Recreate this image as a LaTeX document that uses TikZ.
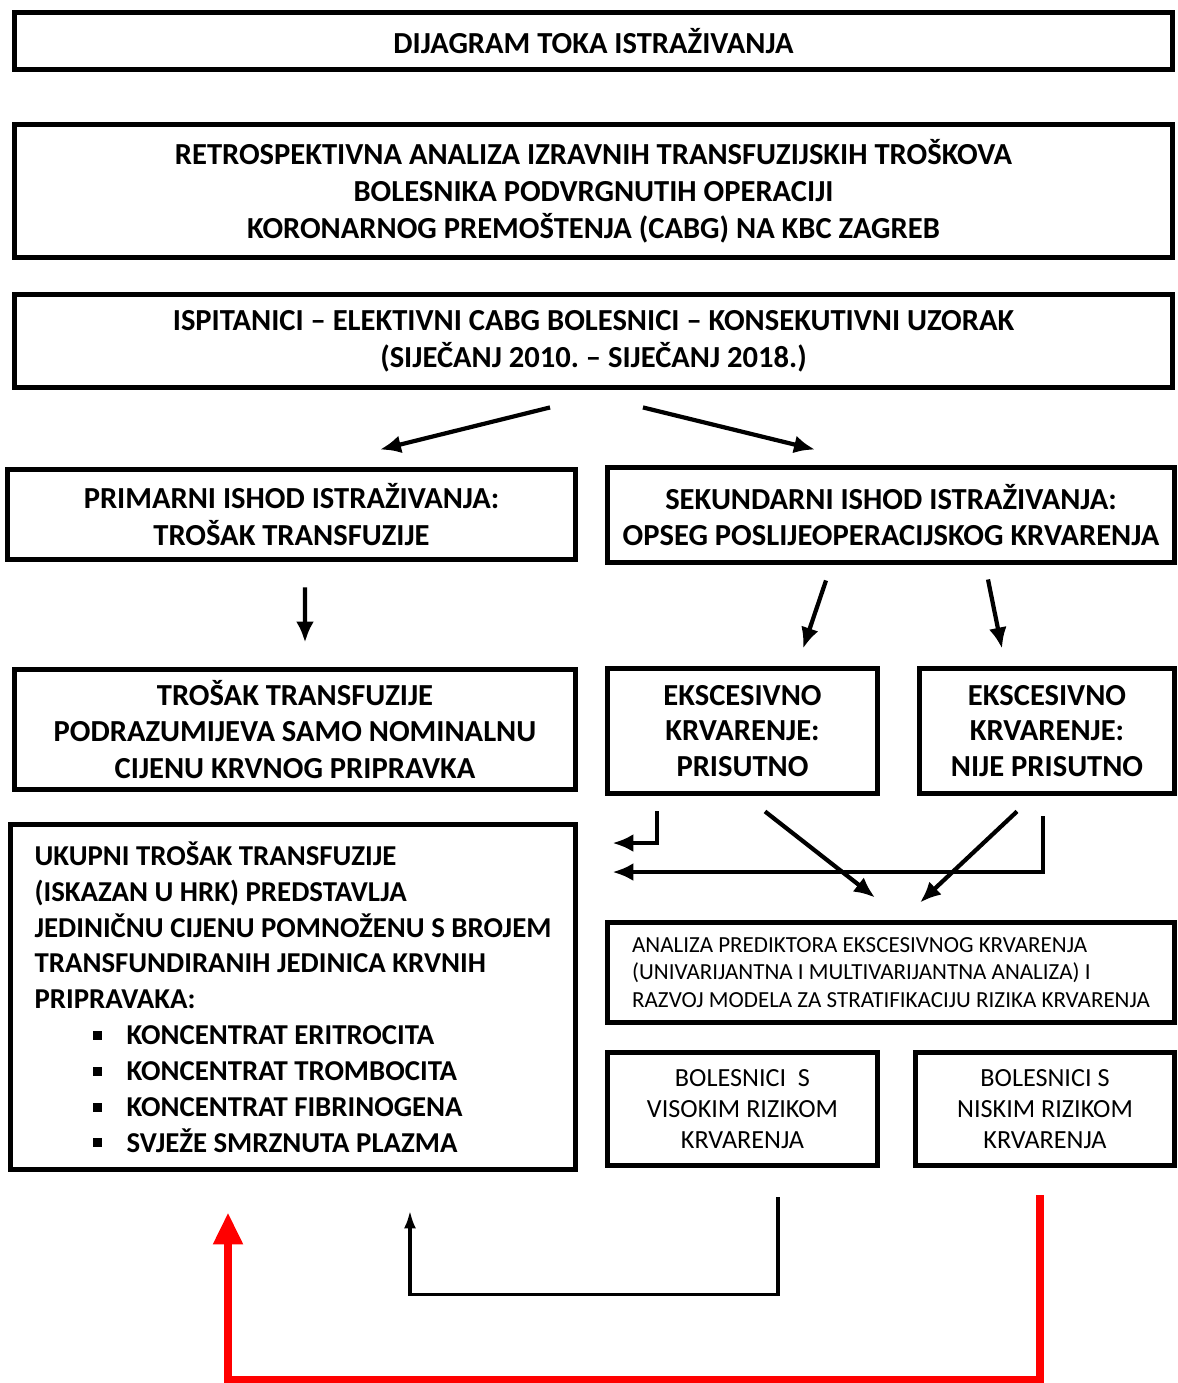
\documentclass[tikz,border=0pt]{standalone}
\usepackage{fontspec}
\setmainfont{Carlito}
\usetikzlibrary{arrows.meta}
\frenchspacing

\newcommand{\stavka}[1]{\hspace*{1.16cm}\rule[2.7pt]{0.18cm}{0.18cm}\hspace{0.5cm}#1}

\begin{document}
\begin{tikzpicture}[->,>={Latex[length=0.42cm,width=0.36cm]},x=0.02cm,y=-0.02cm,
		line width=2.4pt,
		main box/.style={rectangle,draw,line width=2.8pt,inner sep=0pt,align=center,font=\bfseries\fontsize{17.4}{21}\selectfont},
		plain box/.style={rectangle,draw,line width=2.8pt,inner sep=0pt,align=center,font=\fontsize{14.9}{17.8}\selectfont}]

		\useasboundingbox (0,0) rectangle (1177,1383);

		\node[main box, minimum width=23.16cm, minimum height=1.14cm] (1) at (593.5,41) {DIJAGRAM TOKA ISTRAŽIVANJA};
		\node[main box, minimum width=23.16cm, minimum height=2.66cm] (2) at (593.5,191) {RETROSPEKTIVNA ANALIZA IZRAVNIH TRANSFUZIJSKIH TROŠKOVA\\BOLESNIKA PODVRGNUTIH OPERACIJI\\KORONARNOG PREMOŠTENJA (CABG) NA KBC ZAGREB};
		\node[main box, minimum width=23.16cm, minimum height=1.86cm] (3) at (593.5,341) {ISPITANICI – ELEKTIVNI CABG BOLESNICI – KONSEKUTIVNI UZORAK\\(SIJEČANJ 2010. – SIJEČANJ 2018.)};
		\node[main box, minimum width=11.36cm, minimum height=1.8cm] (4) at (291.5,514.5) {PRIMARNI ISHOD ISTRAŽIVANJA:\\TROŠAK TRANSFUZIJE};
		\node[main box, minimum width=11.34cm, minimum height=1.9cm] (5) at (891,515) {SEKUNDARNI ISHOD ISTRAŽIVANJA:\\OPSEG POSLIJEOPERACIJSKOG KRVARENJA};
		\node[main box, minimum width=11.22cm, minimum height=2.4cm] (6) at (295,729.5) {TROŠAK TRANSFUZIJE\\PODRAZUMIJEVA SAMO NOMINALNU\\CIJENU KRVNOG PRIPRAVKA};
		\node[main box, minimum width=5.4cm, minimum height=2.5cm, font=\bfseries\fontsize{17.4}{20}\selectfont] (7) at (742.5,731) {EKSCESIVNO\\KRVARENJE:\\PRISUTNO};
		\node[main box, minimum width=5.1cm, minimum height=2.5cm, font=\bfseries\fontsize{17.4}{20}\selectfont] (8) at (1047,731) {EKSCESIVNO\\KRVARENJE:\\NIJE PRISUTNO};
		\node[main box, align=left, minimum width=11.3cm, minimum height=6.9cm, font=\bfseries\fontsize{16.4}{20.4}\selectfont] (9) at (293,997) {UKUPNI TROŠAK TRANSFUZIJE\\(ISKAZAN U HRK) PREDSTAVLJA\\JEDINIČNU CIJENU POMNOŽENU S BROJEM\\TRANSFUNDIRANIH JEDINICA KRVNIH\\PRIPRAVAKA:\\\stavka{KONCENTRAT ERITROCITA}\\\stavka{KONCENTRAT TROMBOCITA}\\\stavka{KONCENTRAT FIBRINOGENA}\\\stavka{SVJEŽE SMRZNUTA PLAZMA}};
		\node[plain box, align=left, minimum width=11.34cm, minimum height=2cm, font=\fontsize{13.1}{15.6}\selectfont] (10) at (891,972.5) {ANALIZA PREDIKTORA EKSCESIVNOG KRVARENJA\\(UNIVARIJANTNA I MULTIVARIJANTNA ANALIZA) I\\RAZVOJ MODELA ZA STRATIFIKACIJU RIZIKA KRVARENJA};
		\node[plain box, minimum width=5.4cm, minimum height=2.26cm] (11) at (742.5,1109) {BOLESNICI\ \ S\\VISOKIM RIZIKOM\\KRVARENJA};
		\node[plain box, minimum width=5.18cm, minimum height=2.26cm] (12) at (1045,1109) {BOLESNICI S\\NISKIM RIZIKOM\\KRVARENJA};

		\path
		([xshift=-0.87cm,yshift=-0.35cm]3.south) edge ([xshift=1.77cm,yshift=0.35cm]4.north)
		([xshift=0.99cm,yshift=-0.35cm]3.south) edge ([xshift=-1.52cm,yshift=0.31cm]5.north)
		([xshift=0.27cm,yshift=-0.51cm]4.south) edge ([xshift=0.2cm,yshift=0.49cm]6.north)
		([xshift=-1.3cm,yshift=-0.31cm]5.south) edge ([xshift=1.21cm,yshift=0.35cm]7.north)
		([xshift=1.94cm,yshift=-0.29cm]5.south) edge ([xshift=-0.9cm,yshift=0.35cm]8.north)
		([xshift=0.45cm,yshift=-0.31cm]7.south) edge ([xshift=-0.32cm,yshift=0.45cm]10.north)
		([xshift=-0.6cm,yshift=-0.31cm]8.south) edge ([xshift=0.58cm,yshift=0.35cm]10.north);

		\draw ([xshift=-1.71cm,yshift=-0.31cm]7.south) |- ([xshift=0.69cm,yshift=3.08cm]9.east);
		\draw ([xshift=-0.08cm,yshift=-0.41cm]8.south) |- ([xshift=0.69cm,yshift=2.5cm]9.east);

		% povratne strelice
		\draw[line width=2pt,>={Latex[length=0.36cm,width=0.24cm]}] ([xshift=0.71cm,yshift=-0.59cm]11.south) -- ++(0,97) -| ([xshift=2.34cm,yshift=-0.77cm]9.south);
		\draw[red,line width=5pt,>={Triangle[length=0.64cm,width=0.56cm]}] ([xshift=-0.1cm,yshift=-0.55cm]12.south) -- ++(0,185) -| ([xshift=-1.3cm,yshift=-0.81cm]9.south);
\end{tikzpicture}
\end{document}
